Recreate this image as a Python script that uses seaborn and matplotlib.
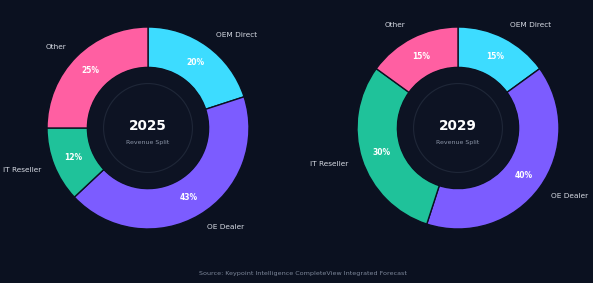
import matplotlib
matplotlib.use("Agg")
import matplotlib.pyplot as plt
import seaborn as sns
from matplotlib.patches import Circle

categories = ["OEM Direct", "OE Dealer", "IT Reseller", "Other"]
values_2025 = [20, 43, 12, 25]
values_2029 = [15, 40, 30, 15]
years = ["2025", "2029"]
subtitle = "Revenue Split"
source = "Source: Keypoint Intelligence CompleteView Integrated Forecast"

BG = "#0b1120"
colors = ["#3ddcff", "#7c5cff", "#1fc29a", "#ff5fa2"]

sns.set_theme(style="dark", rc={"figure.facecolor": BG, "axes.facecolor": BG})
plt.rcParams["font.family"] = ["DejaVu Sans"]

W, H = 593, 283
fig = plt.figure(figsize=(W / 100, H / 100), dpi=100)
fig.patch.set_facecolor(BG)

R = 101
centers = [(148, 128), (458, 128)]
for (cx, cy), vals, yr in zip(centers, [values_2025, values_2029], years):
    ax = fig.add_axes([(cx - R) / W, (H - cy - R) / H, 2 * R / W, 2 * R / H])
    ax.set_facecolor(BG)
    wedges, texts, autotexts = ax.pie(
        vals, labels=categories, colors=colors, startangle=90, counterclock=False,
        radius=1.0, labeldistance=1.14, pctdistance=0.8,
        autopct=lambda p: f"{p:.0f}%",
        wedgeprops=dict(width=0.4, edgecolor=BG, linewidth=1.0),
        textprops=dict(color="#d6dae3", fontsize=5.3))
    for t in autotexts:
        t.set_color("white")
        t.set_fontweight("bold")
        t.set_fontsize(5.5)
    ax.add_patch(Circle((0, 0), 0.6, facecolor="#0d1323", edgecolor="none", zorder=3))
    ax.add_patch(Circle((0, 0), 0.44, facecolor="none", edgecolor="#1f2738", linewidth=0.8, zorder=4))
    ax.text(0, 0.02, yr, ha="center", va="center", color="white", fontsize=9.8,
            fontweight="bold", zorder=5)
    ax.text(0, -0.14, subtitle, ha="center", va="center", color="#8a93a6", fontsize=4.5, zorder=5)
    ax.set_xlim(-1, 1)
    ax.set_ylim(-1, 1)
    ax.axis("off")

fig.text(303 / W, 1 - 273 / H, source, ha="center", va="center", color="#7d879a", fontsize=4.6)

fig.savefig("out.png", dpi=100, facecolor=BG)
